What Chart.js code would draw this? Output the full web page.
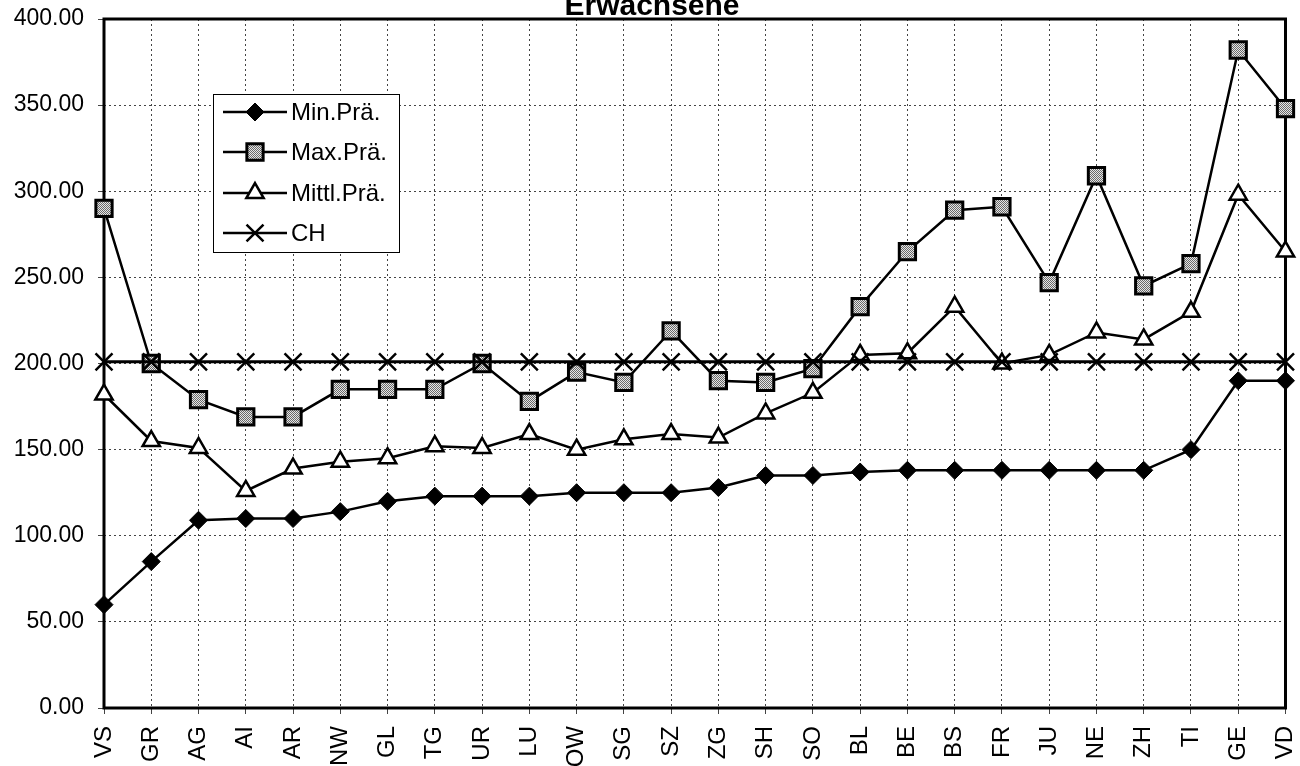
<!DOCTYPE html>
<html>
<head>
<meta charset="utf-8">
<script src="https://cdn.jsdelivr.net/npm/chart.js@4/dist/chart.umd.min.js"></script>
<style>
  html, body { margin: 0; padding: 0; background: #fff; }
  #wrap { width: 1300px; height: 766px; }
</style>
</head>
<body>
<div id="wrap"><canvas id="praemienChart" width="1300" height="766"></canvas></div>
<script>
  // Kantone, sortiert nach Minimalprämie
  const kantone = ["VS", "GR", "AG", "AI", "AR", "NW", "GL", "TG", "UR", "LU", "OW", "SG", "SZ",
    "ZG", "SH", "SO", "BL", "BE", "BS", "FR", "JU", "NE", "ZH", "TI", "GE", "VD"];

  const minPraemie = [60, 85, 109, 110, 110, 114, 120, 123, 123, 123, 125, 125, 125,
    128, 135, 135, 137, 138, 138, 138, 138, 138, 138, 150, 190, 190];

  const maxPraemie = [290, 200, 179, 169, 169, 185, 185, 185, 200, 178, 195, 189, 219,
    190, 189, 197, 233, 265, 289, 291, 247, 309, 245, 258, 382, 348];

  const mittlPraemie = [182, 155, 151, 126, 139, 143, 145, 152, 151, 159, 150, 156, 159,
    157, 171, 183, 205, 206, 233, 200, 205, 218, 214, 230, 298, 265];

  const chMittel = [201, 201, 201, 201, 201, 201, 201, 201, 201, 201, 201, 201, 201,
    201, 201, 201, 201, 201, 201, 201, 201, 201, 201, 201, 201, 201];

  const yTicks = [0, 50, 100, 150, 200, 250, 300, 350, 400];

  const FONT = 'Arial, "Liberation Sans", sans-serif';

  // grey stipple fill for the square markers
  function stipple() {
    const c = document.createElement("canvas");
    c.width = 2;
    c.height = 2;
    const g = c.getContext("2d");
    g.fillStyle = "#e6e6e6";
    g.fillRect(0, 0, 2, 2);
    g.fillStyle = "#6a6a6a";
    g.fillRect(0, 0, 1, 1);
    g.fillRect(1, 1, 1, 1);
    return g.createPattern(c, "repeat");
  }
  const squareFill = stipple();

  // plot frame drawn under the markers
  const framePlugin = {
    id: "frame",
    beforeDatasetsDraw(chart) {
      const { ctx, chartArea: a } = chart;
      ctx.save();
      ctx.strokeStyle = "#000";
      ctx.lineWidth = 3;
      ctx.strokeRect(a.left, a.top, a.right - a.left, a.bottom - a.top);
      ctx.restore();
    },
  };

  // title and boxed legend with line + marker samples
  const overlayPlugin = {
    id: "overlay",
    afterDraw(chart) {
      const ctx = chart.ctx;
      ctx.save();
      ctx.fillStyle = "#000";
      ctx.font = "bold 30px " + FONT;
      ctx.textAlign = "center";
      ctx.textBaseline = "alphabetic";
      ctx.fillText("Erwachsene", 652, 15);

      const box = { x: 213, y: 94, w: 186, h: 158 };
      ctx.fillStyle = "#fff";
      ctx.fillRect(box.x, box.y, box.w, box.h);
      ctx.strokeStyle = "#000";
      ctx.lineWidth = 1;
      ctx.strokeRect(box.x + 0.5, box.y + 0.5, box.w, box.h);

      const rows = [112, 152, 193, 233];
      chart.data.datasets.forEach((ds, i) => {
        const y = rows[i];
        ctx.beginPath();
        ctx.strokeStyle = "#000";
        ctx.lineWidth = 2.5;
        ctx.moveTo(223, y);
        ctx.lineTo(287, y);
        ctx.stroke();
        ctx.fillStyle = ds.pointBackgroundColor;
        ctx.strokeStyle = "#000";
        ctx.lineWidth = ds.pointBorderWidth;
        Chart.helpers.drawPoint(ctx, {
          pointStyle: ds.pointStyle,
          radius: ds.pointRadius,
          rotation: 0,
          borderWidth: ds.pointBorderWidth,
        }, 255, y);
        ctx.fillStyle = "#000";
        ctx.font = "24px " + FONT;
        ctx.textAlign = "left";
        ctx.textBaseline = "middle";
        ctx.fillText(ds.label, 291, y + 1);
      });
      ctx.restore();
    },
  };

  new Chart(document.getElementById("praemienChart"), {
    type: "line",
    data: {
      labels: kantone,
      datasets: [
        {
          label: "Min.Prä.",
          data: minPraemie,
          borderColor: "#000",
          borderWidth: 2.5,
          pointStyle: "rectRot",
          pointRadius: 9,
          pointBackgroundColor: "#000",
          pointBorderColor: "#000",
          pointBorderWidth: 1,
          order: 1,
        },
        {
          label: "Max.Prä.",
          data: maxPraemie,
          borderColor: "#000",
          borderWidth: 2.5,
          pointStyle: "rect",
          pointRadius: 11.5,
          pointBackgroundColor: squareFill,
          pointBorderColor: "#000",
          pointBorderWidth: 3,
          order: 3,
        },
        {
          label: "Mittl.Prä.",
          data: mittlPraemie,
          borderColor: "#000",
          borderWidth: 2.5,
          pointStyle: "triangle",
          pointRadius: 10,
          pointBackgroundColor: "#fff",
          pointBorderColor: "#000",
          pointBorderWidth: 2.5,
          order: 2,
        },
        {
          label: "CH",
          data: chMittel,
          borderColor: "#000",
          borderWidth: 3,
          pointStyle: "crossRot",
          pointRadius: 12,
          pointBackgroundColor: "#000",
          pointBorderColor: "#000",
          pointBorderWidth: 2.5,
          order: 0,
        },
      ],
    },
    options: {
      responsive: false,
      animation: false,
      layout: { padding: { top: 19, right: 14, left: 0, bottom: 0 } },
      elements: { line: { tension: 0 } },
      plugins: {
        legend: { display: false },
        title: { display: false },
        tooltip: { enabled: false },
      },
      scales: {
        x: {
          offset: false,
          afterFit: (scale) => {
            scale.height = 58;
            scale.paddingLeft = 0;
            scale.paddingRight = 0;
          },
          grid: {
            color: "#444",
            lineWidth: 1,
            tickLength: 6,
          },
          border: { display: false, dash: [2, 3] },
          ticks: {
            color: "#000",
            font: { family: FONT, size: 24 },
            autoSkip: false,
            minRotation: 90,
            maxRotation: 90,
            padding: 12,
          },
        },
        y: {
          min: 0,
          max: 400,
          afterFit: (scale) => {
            scale.width = 104;
            scale.paddingTop = 0;
            scale.paddingBottom = 0;
          },
          afterBuildTicks: (scale) => {
            scale.ticks = yTicks.map((v) => ({ value: v }));
          },
          grid: {
            color: "#444",
            lineWidth: 1,
            tickLength: 6,
          },
          border: { display: false, dash: [2, 3] },
          ticks: {
            color: "#000",
            font: { family: FONT, size: 23 },
            padding: 14,
            callback: (v) => Number(v).toFixed(2),
          },
        },
      },
    },
    plugins: [framePlugin, overlayPlugin],
  });
</script>
</body>
</html>
